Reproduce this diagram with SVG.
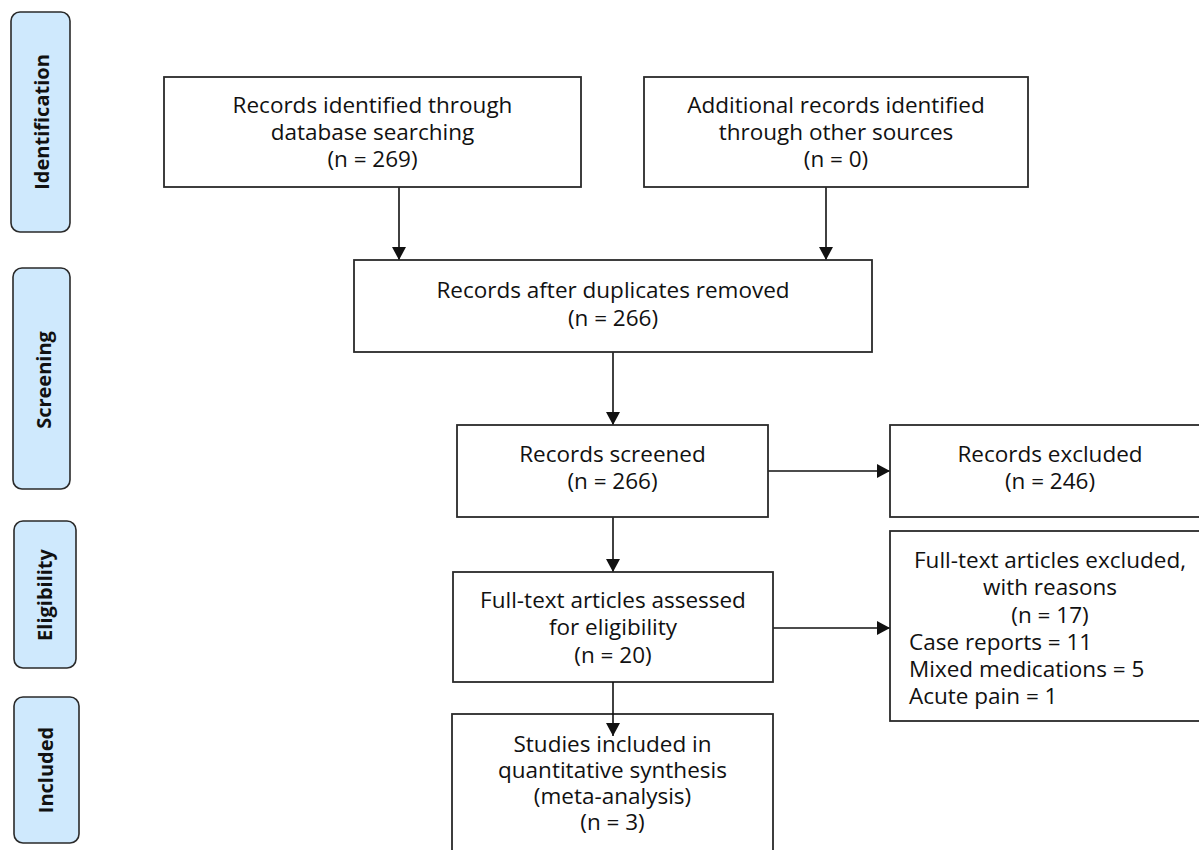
<svg xmlns="http://www.w3.org/2000/svg" width="1199" height="850" viewBox="0 0 1199 850">
<defs>
<marker id="ah" markerWidth="14" markerHeight="14" refX="13" refY="7" orient="auto" markerUnits="userSpaceOnUse">
<path d="M0,0 L13,7 L0,14 Z" fill="#111"/>
</marker>
<style>
.side{fill:#cfe9fd;stroke:#2a2a2a;stroke-width:1.6}
.box{fill:#fff;stroke:#2a2a2a;stroke-width:1.8}
.t{font-family:"Open Sans","Noto Sans",sans-serif;font-size:22.5px;fill:#111;text-anchor:middle}
.l{text-anchor:start}
.st{font-family:"Open Sans","Noto Sans",sans-serif;font-size:20px;font-weight:bold;fill:#111;text-anchor:middle}
.c{stroke:#111;stroke-width:1.6;fill:none;marker-end:url(#ah)}
</style>
</defs>
<rect width="1199" height="850" fill="#fff"/>
<g id="side-identification"><rect class="side" x="11" y="12" width="59" height="220" rx="9"/><text class="st" transform="translate(49,122) rotate(-90)">Identification</text></g>
<g id="side-screening"><rect class="side" x="13" y="268" width="57" height="221" rx="9"/><text class="st" transform="translate(51,380) rotate(-90)">Screening</text></g>
<g id="side-eligibility"><rect class="side" x="14" y="521" width="62" height="147" rx="9"/><text class="st" transform="translate(52,595) rotate(-90)">Eligibility</text></g>
<g id="side-included"><rect class="side" x="14" y="697" width="65" height="146" rx="9"/><text class="st" transform="translate(53,770) rotate(-90)">Included</text></g>
<g id="connectors">
<line class="c" x1="399" y1="187" x2="399" y2="260"/>
<line class="c" x1="826" y1="187" x2="826" y2="260"/>
<line class="c" x1="613" y1="352" x2="613" y2="425"/>
<line class="c" x1="613" y1="517" x2="613" y2="572"/>
<line class="c" x1="768" y1="471" x2="890" y2="471"/>
<line class="c" x1="773" y1="628" x2="890" y2="628"/>
</g>
<g id="n1"><rect class="box" x="164" y="77" width="417" height="110"/><text class="t" x="372.5" y="113">Records identified through</text><text class="t" x="372.5" y="140">database searching</text><text class="t" x="372.5" y="167">(n = 269)</text></g>
<g id="n2"><rect class="box" x="644" y="77" width="384" height="110"/><text class="t" x="836" y="113">Additional records identified</text><text class="t" x="836" y="140">through other sources</text><text class="t" x="836" y="167">(n = 0)</text></g>
<g id="n3"><rect class="box" x="354" y="260" width="518" height="92"/><text class="t" x="613" y="298">Records after duplicates removed</text><text class="t" x="613" y="326">(n = 266)</text></g>
<g id="n4"><rect class="box" x="457" y="425" width="311" height="92"/><text class="t" x="612.5" y="462">Records screened</text><text class="t" x="612.5" y="489">(n = 266)</text></g>
<g id="n5"><rect class="box" x="890" y="425" width="320" height="92"/><text class="t" x="1050" y="462">Records excluded</text><text class="t" x="1050" y="489">(n = 246)</text></g>
<g id="n6"><rect class="box" x="453" y="572" width="320" height="110"/><text class="t" x="613" y="608">Full-text articles assessed</text><text class="t" x="613" y="635">for eligibility</text><text class="t" x="613" y="663">(n = 20)</text></g>
<g id="n7"><rect class="box" x="890" y="531" width="320" height="190"/><text class="t" x="1050" y="568">Full-text articles excluded,</text><text class="t" x="1050" y="595">with reasons</text><text class="t" x="1050" y="623">(n = 17)</text><text class="t l" x="909" y="650">Case reports = 11</text><text class="t l" x="909" y="677">Mixed medications = 5</text><text class="t l" x="909" y="704">Acute pain = 1</text></g>
<g id="n8"><rect class="box" x="452" y="714" width="321" height="150"/><text class="t" x="612.5" y="752">Studies included in</text><text class="t" x="612.5" y="778">quantitative synthesis</text><text class="t" x="612.5" y="804">(meta-analysis)</text><text class="t" x="612.5" y="830">(n = 3)</text></g>
<g id="connectors-over"><line class="c" x1="613" y1="682" x2="613" y2="736"/></g>
</svg>
